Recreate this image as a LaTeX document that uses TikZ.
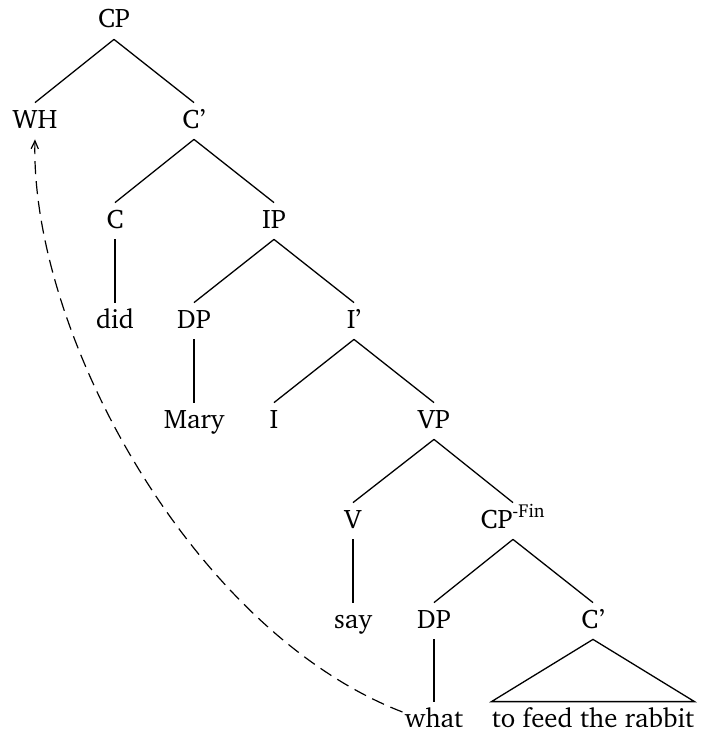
\documentclass[tikz,border=0pt]{standalone}
\usepackage[T1]{fontenc}
\usepackage{charter}
\usetikzlibrary{arrows.meta,calc}
\begin{document}
\begin{tikzpicture}[x=0.5pt,y=-0.5pt,
  every node/.style={font=\fontsize{13.4pt}{16pt}\selectfont},
  lab/.style={anchor=base,inner sep=0pt,text height=12.5pt,text depth=5.5pt},
  branch/.style={line width=0.65pt},
  move/.style={line width=0.6pt,dash pattern=on 6.5pt off 3.5pt,
    -{Straight Barb[length=4pt,width=3.6pt,line width=0.6pt]}}]
\useasboundingbox (0,0) rectangle (704,733);
% nodes placed on their baselines
\node[lab] (cp)    at (114,28)  {CP};
\node[lab] (wh)    at (35,128)  {WH};
\node[lab] (cbar)  at (194,128) {C'};
\node[lab] (c)     at (115,228) {C};
\node[lab] (ip)    at (274,228) {IP};
\node[lab] (did)   at (115,328) {did};
\node[lab] (dp1)   at (194,328) {DP};
\node[lab] (ibar)  at (354,328) {I'};
\node[lab] (mary)  at (194,428) {Mary};
\node[lab] (i)     at (274,428) {I};
\node[lab] (vp)    at (434,428) {VP};
\node[lab] (v)     at (353,528) {V};
\node[lab] (cpfin) at (513,528) {CP\textsuperscript{-Fin}};
\node[lab] (say)   at (353,628) {say};
\node[lab] (dp2)   at (434,628) {DP};
\node[lab] (cbar2) at (593,628) {C'};
\node[lab] (what)  at (434,727) {what};
\node[lab] (rest)  at (593,727) {to feed the rabbit};
% branches
\draw[branch] (cp.south) -- (wh.north);
\draw[branch] (cp.south) -- (cbar.north);
\draw[branch] (cbar.south) -- (c.north);
\draw[branch] (cbar.south) -- (ip.north);
\draw[branch] (c.south) -- (did.north);
\draw[branch] (ip.south) -- (dp1.north);
\draw[branch] (ip.south) -- (ibar.north);
\draw[branch] (dp1.south) -- (mary.north);
\draw[branch] (ibar.south) -- (i.north);
\draw[branch] (ibar.south) -- (vp.north);
\draw[branch] (vp.south) -- (v.north);
\draw[branch] (vp.south) -- (cpfin.north);
\draw[branch] (v.south) -- (say.north);
\draw[branch] (cpfin.south) -- (dp2.north);
\draw[branch] (cpfin.south) -- (cbar2.north);
\draw[branch] (dp2.south) -- (what.north);
\draw[branch] (cbar2.south) -- (rest.north west) -- (rest.north east) -- cycle;
% movement of the wh-phrase
\draw[move] ($(what.west)+(-2,-8)$) .. controls (190,630) and (30,330) .. (wh.south);
\end{tikzpicture}
\end{document}
